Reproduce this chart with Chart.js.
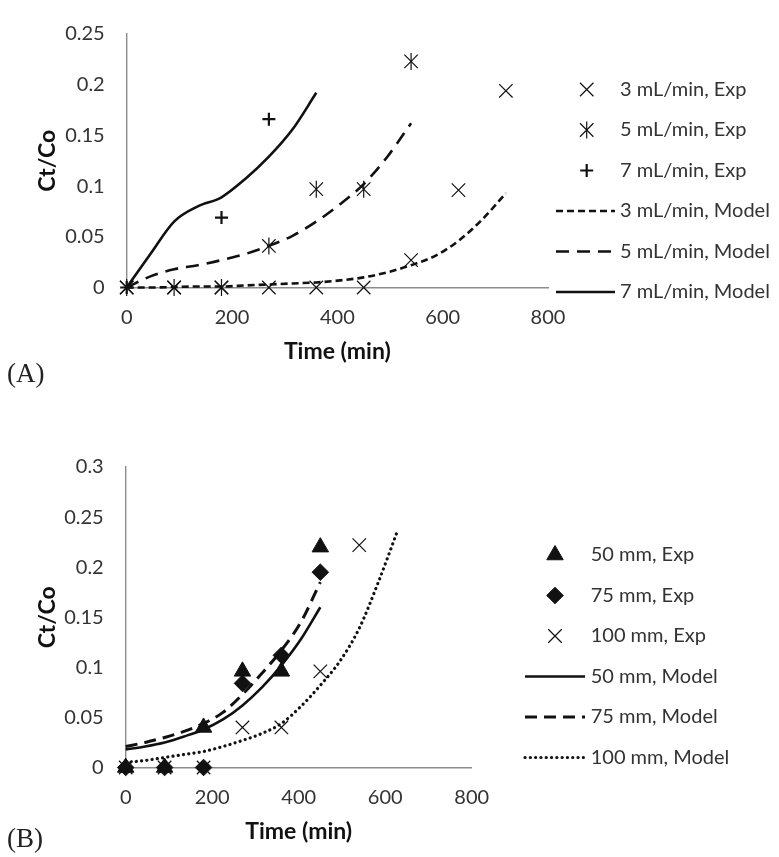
<!DOCTYPE html>
<html>
<head>
<meta charset="utf-8">
<title>Breakthrough curves</title>
<script src="https://cdn.jsdelivr.net/npm/chart.js@4.4.1/dist/chart.umd.min.js"></script>
<style>
  body { margin: 0; background: #fff; }
  #wrap { position: relative; width: 779px; height: 857px; overflow: hidden; }
  #wrap canvas { position: absolute; left: 0; }
  .tag { position: absolute; left: 7px; font-family: "Liberation Serif", "Times New Roman", serif; font-size: 27px; line-height: 30px; color: #222; }
</style>
</head>
<body>
<div id="wrap">
  <canvas id="chartA" width="779" height="400" style="top:0; width:779px; height:400px"></canvas>
  <canvas id="chartB" width="779" height="457" style="top:400px; width:779px; height:457px"></canvas>
  <div class="tag" style="top:358px">(A)</div>
  <div class="tag" style="top:823px">(B)</div>
</div>
<script>
// ---- (A) flow rate ----
const timeA3 = [0, 90, 180, 270, 360, 450, 540, 630, 720];
const expA3 = [0, 0, 0, 0, 0, 0, 0.027, 0.096, 0.194];
const timeA5 = [0, 90, 180, 270, 360, 450, 540];
const expA5 = [0, 0, 0, 0.041, 0.097, 0.097, 0.223];
const timeA7 = [0, 180, 270];
const expA7 = [0, 0.069, 0.166];

const modelTimeA = [0, 45, 90, 135, 180, 225, 270, 315, 360, 405, 450, 495, 540, 585, 630, 675, 720];
const modelA3 = [0, 0, 0.0005, 0.001, 0.001, 0.002, 0.003, 0.004, 0.005, 0.007, 0.010, 0.015, 0.022, 0.031, 0.046, 0.067, 0.093];
const modelA5 = [0, 0.011, 0.018, 0.022, 0.027, 0.033, 0.041, 0.051, 0.065, 0.082, 0.102, 0.129, 0.162];
const modelA7 = [0, 0.033, 0.065, 0.080, 0.089, 0.107, 0.129, 0.156, 0.192];

const labelsA = ['3 mL/min, Exp', '5 mL/min, Exp', '7 mL/min, Exp',
                 '3 mL/min, Model', '5 mL/min, Model', '7 mL/min, Model'];
const xTicksA = [0, 200, 400, 600, 800];
const yTicksA = [0, 0.05, 0.1, 0.15, 0.2, 0.25];

// ---- (B) bed depth ----
const timeB = [0, 90, 180, 270, 360, 450];
const expB50 = [0, 0, 0.040, 0.096, 0.096, 0.220];
const expB75 = [0, 0, 0, 0.084, 0.112, 0.195];
const timeB100 = [0, 90, 180, 270, 360, 450, 540];
const expB100 = [0, 0, 0, 0.040, 0.040, 0.096, 0.222];

const modelTimeB = [0, 45, 90, 135, 180, 225, 270, 315, 360, 405, 450, 495, 540, 585, 630];
const modelB50 = [0.018, 0.021, 0.025, 0.031, 0.038, 0.048, 0.062, 0.080, 0.102, 0.128, 0.160];
const modelB75 = [0.021, 0.025, 0.030, 0.036, 0.044, 0.055, 0.073, 0.094, 0.117, 0.145, 0.185];
const modelB100 = [0.005, 0.007, 0.010, 0.013, 0.016, 0.021, 0.027, 0.034, 0.044, 0.061, 0.082, 0.106, 0.139, 0.186, 0.238];

const labelsB = ['50 mm, Exp', '75 mm, Exp', '100 mm, Exp',
                 '50 mm, Model', '75 mm, Model', '100 mm, Model'];
const xTicksB = [0, 200, 400, 600, 800];
const yTicksB = [0, 0.05, 0.1, 0.15, 0.2, 0.25, 0.3];

// ---- styling ----
const INK = '#111';
const TEXT = '#333';
const AXIS = '#8c8c8c';
const FONT = 'Lato, "Open Sans", sans-serif';

function pairs(xs, ys) {
  return ys.map((y, i) => ({ x: xs[i], y: y }));
}

function expSet(label, data, style, radius, width, filled) {
  return {
    label: label,
    data: data,
    showLine: false,
    pointStyle: style,
    pointRadius: radius,
    pointHoverRadius: radius,
    pointBorderWidth: width,
    pointBorderColor: INK,
    pointBackgroundColor: filled ? INK : 'rgba(0,0,0,0)',
    clip: false
  };
}

function modelSet(label, data, dash, width, cap) {
  return {
    label: label,
    data: data,
    showLine: true,
    pointRadius: 0,
    borderColor: INK,
    borderWidth: width,
    borderDash: dash,
    borderCapStyle: cap || 'butt',
    cubicInterpolationMode: 'monotone',
    fill: false,
    clip: false
  };
}

// vertical stroke that turns an x marker into an asterisk
function drawBar(ctx, x, y, half) {
  ctx.beginPath();
  ctx.moveTo(x, y - half);
  ctx.lineTo(x, y + half);
  ctx.stroke();
}

const asteriskBars = {
  id: 'asteriskBars',
  afterDatasetsDraw(chart) {
    const ctx = chart.ctx;
    ctx.save();
    chart.data.datasets.forEach((ds, i) => {
      if (!ds.asterisk) return;
      ctx.strokeStyle = ds.pointBorderColor;
      ctx.lineWidth = ds.pointBorderWidth;
      chart.getDatasetMeta(i).data.forEach(pt => drawBar(ctx, pt.x, pt.y, ds.asterisk));
    });
    ctx.restore();
  }
};

// legend drawn beside the plot, one row per dataset
const sideLegend = {
  id: 'sideLegend',
  afterDraw(chart, args, opts) {
    const ctx = chart.ctx;
    ctx.save();
    ctx.font = opts.font;
    ctx.textBaseline = 'middle';
    chart.data.datasets.forEach((ds, i) => {
      const y = opts.top + i * opts.rowGap;
      if (ds.showLine) {
        ctx.strokeStyle = ds.borderColor;
        ctx.lineWidth = ds.borderWidth;
        ctx.lineCap = ds.borderCapStyle;
        ctx.setLineDash(ds.borderDash || []);
        ctx.beginPath();
        ctx.moveTo(opts.lineFrom, y);
        ctx.lineTo(opts.lineTo, y);
        ctx.stroke();
        ctx.setLineDash([]);
      } else {
        ctx.fillStyle = ds.pointBackgroundColor;
        ctx.strokeStyle = ds.pointBorderColor;
        ctx.lineWidth = ds.pointBorderWidth;
        Chart.helpers.drawPoint(ctx, {
          pointStyle: ds.pointStyle,
          radius: ds.pointRadius,
          rotation: 0,
          borderWidth: ds.pointBorderWidth
        }, opts.markerX, y);
        if (ds.asterisk) drawBar(ctx, opts.markerX, y, ds.asterisk);
      }
      ctx.fillStyle = TEXT;
      ctx.fillText(ds.label, opts.textX, y);
    });
    ctx.restore();
  }
};

function makeScales(o) {
  return {
    x: {
      type: 'linear',
      min: o.xTicks[0],
      max: o.xTicks[o.xTicks.length - 1],
      afterBuildTicks: s => { s.ticks = o.xTicks.map(v => ({ value: v })); },
      afterFit: s => { s.height = o.xAxisHeight; },
      grid: { display: false, drawTicks: false },
      border: { display: true, color: AXIS, width: 1.4 },
      ticks: { padding: 18, color: TEXT, font: { family: FONT, size: 20 } },
      title: {
        display: true, text: 'Time (min)', color: INK,
        font: { family: FONT, size: 23, weight: 'bold' },
        padding: { top: 0, bottom: o.xTitlePad }
      }
    },
    y: {
      type: 'linear',
      min: o.yTicks[0],
      max: o.yTicks[o.yTicks.length - 1],
      afterBuildTicks: s => { s.ticks = o.yTicks.map(v => ({ value: v })); },
      afterFit: s => { s.width = o.yAxisWidth; },
      grid: { display: false, drawTicks: false },
      border: { display: true, color: AXIS, width: 1.4 },
      ticks: {
        padding: 22, color: TEXT, font: { family: FONT, size: 20 },
        callback: v => String(v)
      },
      title: {
        display: true, text: 'Ct/Co', color: INK,
        font: { family: FONT, size: 23, weight: 'bold' },
        padding: { top: 34, bottom: 0 }
      }
    }
  };
}

function baseOptions(o) {
  return {
    responsive: false,
    animation: false,
    layout: { padding: o.padding },
    plugins: {
      legend: { display: false },
      tooltip: { enabled: false },
      sideLegend: o.legend
    },
    scales: makeScales(o)
  };
}

const starA = expSet(labelsA[1], pairs(timeA5, expA5), 'crossRot', 9.5, 1.2, false);
starA.asterisk = 8.5;

new Chart(document.getElementById('chartA'), {
  type: 'scatter',
  data: {
    datasets: [
      expSet(labelsA[0], pairs(timeA3, expA3), 'crossRot', 9.5, 1.2, false),
      starA,
      expSet(labelsA[2], pairs(timeA7, expA7), 'cross', 6.5, 2.2, false),
      modelSet(labelsA[3], pairs(modelTimeA, modelA3), [7, 4], 2.6),
      modelSet(labelsA[4], pairs(modelTimeA, modelA5), [13, 8], 2.6),
      modelSet(labelsA[5], pairs(modelTimeA, modelA7), [], 2.6)
    ]
  },
  options: baseOptions({
    padding: { left: 0, top: 15, right: 231, bottom: 0 },
    xTicks: xTicksA, yTicks: yTicksA,
    xAxisHeight: 112.5, yAxisWidth: 126.7, xTitlePad: 35,
    legend: {
      font: '20px ' + FONT, top: 89.5, rowGap: 40.5,
      markerX: 586.7, textX: 620, lineFrom: 556, lineTo: 615
    }
  }),
  plugins: [asteriskBars, sideLegend]
});

new Chart(document.getElementById('chartB'), {
  type: 'scatter',
  data: {
    datasets: [
      expSet(labelsB[0], pairs(timeB, expB50), 'triangle', 9.5, 1, true),
      expSet(labelsB[1], pairs(timeB, expB75), 'rectRot', 8.3, 1, true),
      expSet(labelsB[2], pairs(timeB100, expB100), 'crossRot', 9.5, 1.2, false),
      modelSet(labelsB[3], pairs(modelTimeB, modelB50), [], 2.6),
      modelSet(labelsB[4], pairs(modelTimeB, modelB75), [12, 7], 3),
      modelSet(labelsB[5], pairs(modelTimeB, modelB100), [0.1, 5.2], 3.2, 'round')
    ]
  },
  options: baseOptions({
    padding: { left: 0, top: 67, right: 307.3, bottom: 0 },
    xTicks: xTicksB, yTicks: yTicksB,
    xAxisHeight: 89.5, yAxisWidth: 125.7, xTitlePad: 12,
    legend: {
      font: '20px ' + FONT, top: 155, rowGap: 40.5,
      markerX: 555, textX: 590.7, lineFrom: 525, lineTo: 585
    }
  }),
  plugins: [asteriskBars, sideLegend]
});
</script>
</body>
</html>
